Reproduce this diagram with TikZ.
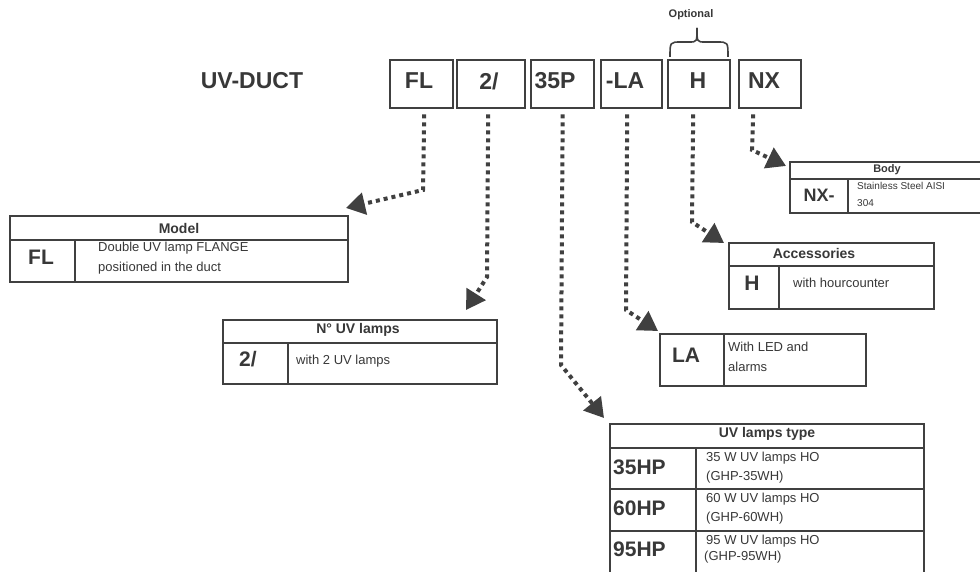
\documentclass[tikz,border=0pt]{standalone}
\usepackage{fontspec}
\setmainfont{Liberation Sans}
\usetikzlibrary{arrows.meta}
\definecolor{lineC}{HTML}{404040}
\definecolor{textC}{HTML}{383838}
\begin{document}
\begin{tikzpicture}[x=1pt,y=-1pt,
  codebox/.style={draw=lineC, line width=2.4pt, minimum width=#1, minimum height=48pt, anchor=north west, inner sep=0pt},
  toplbl/.style={text=textC, font=\bfseries\fontsize{23}{23}\selectfont, inner sep=0pt},
  tab/.style={draw=lineC, line width=1.6pt},
  hdr/.style={text=textC, font=\bfseries\fontsize{14}{14}\selectfont, inner sep=0pt},
  code/.style={text=textC, font=\bfseries\fontsize{21}{21}\selectfont, inner sep=0pt},
  desc/.style={text=textC, font=\fontsize{13}{13}\selectfont, inner sep=0pt, anchor=west},
  dotline/.style={draw=lineC, line width=4pt, dash pattern=on 4pt off 4pt,
     -{Triangle[length=19pt,width=22pt]}}
]
\clip (0,0) rectangle (980,572);
\fill[white] (0,0) rectangle (980,572);

% title
\node[toplbl] (title) at (252,81) {UV-DUCT};

% top code boxes
\node[codebox=63pt] (fl)  at (389,59) {};
\node[codebox=68pt] (two) at (456,59) {};
\node[codebox=63pt] (tp)  at (530,59) {};
\node[codebox=61pt] (la)  at (600,59) {};
\node[codebox=62pt] (h)   at (667,59) {};
\node[codebox=62pt] (nx)  at (738,59) {};
\node[toplbl] (flT)  at (419,81) {FL};
\node[toplbl] (twoT) at (489,81) {2/};
\node[toplbl] (tpT)  at (555,81) {35P};
\node[toplbl] (laT)  at (625,81) {-LA};
\node[toplbl] (hT)   at (698,81) {H};
\node[toplbl] (nxT)  at (764,81) {NX};

% optional brace
\node[text=textC, font=\bfseries\fontsize{11}{11}\selectfont, inner sep=0pt] (opt) at (691,15) {Optional};
\draw[lineC, line width=1.6pt] (670,57) .. controls (670,42) .. (681,42) -- (689,42)
   .. controls (697,42) .. (697,28);
\draw[lineC, line width=1.6pt] (728,57) .. controls (728,42) .. (717,42) -- (705,42)
   .. controls (697,42) .. (697,28);

% named tips / bends
\coordinate (flB) at (423,190);   \coordinate (flE) at (346,208);
\coordinate (twoB) at (487,277);  \coordinate (twoE) at (466,310);
\coordinate (tpB) at (561,365);   \coordinate (tpE) at (604,418);
\coordinate (laB) at (626,310);   \coordinate (laE) at (658,331);
\coordinate (hB) at (692,222);    \coordinate (hE) at (724,243);
\coordinate (nxB) at (752,150);   \coordinate (nxE) at (786,166);

\draw[dotline] ([xshift=2.5pt,yshift=-5pt]fl.south) -- (flB) -- (flE);
\draw[dotline] ([xshift=-3pt,yshift=-5pt]two.south) -- (twoB) -- (twoE);
\draw[dotline] ([xshift=0pt,yshift=-5pt]tp.south) -- (tpB) -- (tpE);
\draw[dotline] ([xshift=-4.5pt,yshift=-5pt]la.south) -- (laB) -- (laE);
\draw[dotline] ([xshift=-6pt,yshift=-5pt]h.south) -- (hB) -- (hE);
\draw[dotline] ([xshift=-17pt,yshift=-5pt]nx.south) -- (nxB) -- (nxE);

% Model table
\draw[tab] (10,216) rectangle (348,282);
\draw[tab] (10,240) -- (348,240);
\draw[tab] (75,240) -- (75,282);
\node[hdr] (modelH) at (179,228) {Model};
\node[code] (modelC) at (41,257) {FL};
\node[desc] (modelD1) at (98,248) {Double UV lamp FLANGE};
\node[desc] (modelD2) at (98,268) {positioned in the duct};

% N UV lamps table
\draw[tab] (223,320) rectangle (497,384);
\draw[tab] (223,343) -- (497,343);
\draw[tab] (288,343) -- (288,384);
\node[hdr] (numH) at (358,330) {N° UV lamps};
\node[code] (numC) at (248,359) {2/};
\node[desc] (numD) at (296,361) {with 2 UV lamps};

% UV lamps type table
\draw[tab] (610,580) -- (610,424) -- (924,424) -- (924,580);
\draw[tab] (610,448) -- (924,448);
\draw[tab] (610,489) -- (924,489);
\draw[tab] (610,531) -- (924,531);
\draw[tab] (696,448) -- (696,580);
\node[hdr] (typH) at (767,434) {UV lamps type};
\node[code, anchor=west] (typC1) at (613,467) {35HP};
\node[code, anchor=west] (typC2) at (613,508) {60HP};
\node[code, anchor=west] (typC3) at (613,549) {95HP};
\node[desc] (typD1a) at (706,458) {35 W UV lamps HO};
\node[desc] (typD1b) at (706,477) {(GHP-35WH)};
\node[desc] (typD2a) at (706,499) {60 W UV lamps HO};
\node[desc] (typD2b) at (706,518) {(GHP-60WH)};
\node[desc] (typD3a) at (706,541) {95 W UV lamps HO};
\node[desc] (typD3b) at (704,557) {(GHP-95WH)};

% LA table
\draw[tab] (660,334) rectangle (866,386);
\draw[tab] (724,334) -- (724,386);
\node[code] (laC) at (686,355) {LA};
\node[desc] (laD1) at (728,347) {With LED and};
\node[desc] (laD2) at (728,367) {alarms};

% Accessories table
\draw[tab] (729,243) rectangle (934,309);
\draw[tab] (729,266) -- (934,266);
\draw[tab] (779,266) -- (779,309);
\node[hdr] (accH) at (814,253) {Accessories};
\node[code] (accC) at (752,283) {H};
\node[desc] (accD) at (793,283) {with hourcounter};

% Body table
\draw[tab] (990,162) -- (790,162) -- (790,213) -- (990,213);
\draw[tab] (790,179) -- (990,179);
\draw[tab] (848,179) -- (848,213);
\node[hdr, font=\bfseries\fontsize{11}{11}\selectfont] (bodyH) at (887,170) {Body};
\node[code, font=\bfseries\fontsize{18}{18}\selectfont] (bodyC) at (819,195) {NX-};
\node[desc, font=\fontsize{10}{10}\selectfont] (bodyD1) at (857,186) {Stainless Steel AISI};
\node[desc, font=\fontsize{10}{10}\selectfont] (bodyD2) at (857,203) {304};
\end{tikzpicture}
\end{document}
